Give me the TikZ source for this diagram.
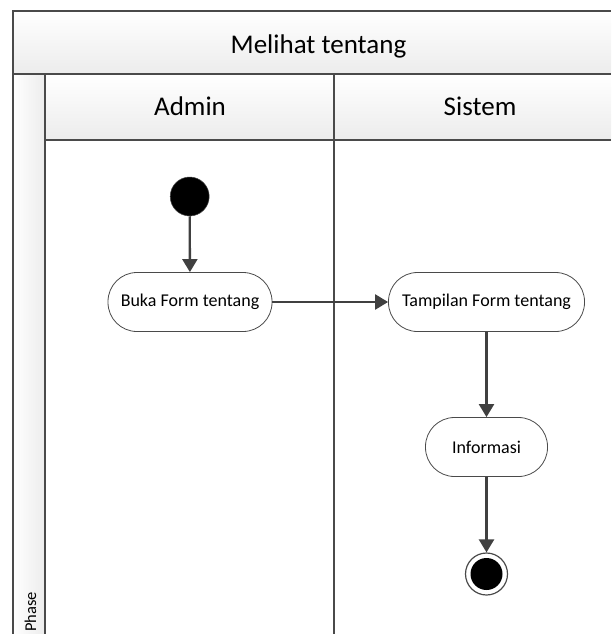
\documentclass[tikz,border=0pt]{standalone}
\usepackage{fontspec}
\setmainfont{Carlito}
\usetikzlibrary{arrows.meta}
\definecolor{edge}{HTML}{404040}
\definecolor{frame}{HTML}{4A4A4A}
\definecolor{band}{HTML}{ECECEC}
\begin{document}
\begin{tikzpicture}[x=1pt,y=-1pt,
  frameline/.style={draw=frame,line width=1.7pt},
  activity/.style={draw=frame,line width=0.8pt,fill=white,rounded corners=29pt,
    minimum height=59pt,inner sep=0pt,font=\fontsize{18}{20}\selectfont},
  flow/.style={draw=edge,line width=2.3pt,-{Triangle[length=13pt,width=15pt]}},
  headtext/.style={anchor=base,inner sep=0pt,font=\fontsize{27}{30}\selectfont}]
\useasboundingbox (0,0) rectangle (611,634);

% header bands
\shade[top color=white,bottom color=band] (13,11) rectangle (611,74);
\shade[top color=white,bottom color=band] (45,74) rectangle (611,140);
\shade[left color=white,right color=band] (13,74) rectangle (45,634);

% swimlane frame
\draw[frameline] (13,634) -- (13,11) -- (611,11);
\draw[frameline] (13,74) -- (611,74);
\draw[frameline] (45,74) -- (45,634);
\draw[frameline] (45,140) -- (611,140);
\draw[frameline] (334,74) -- (334,634);

% header labels
\node[headtext] (title) at (318.5,53) {Melihat tentang};
\node[headtext] (admin) at (190,115) {Admin};
\node[headtext] (sistem) at (480,115) {Sistem};
\node[anchor=base west,rotate=90,inner sep=0pt,font=\fontsize{16.5}{18}\selectfont] (phase) at (36,632) {Phase};

% activities
\node[circle,fill=black,draw=frame,line width=0.5pt,minimum size=39pt,inner sep=0pt] (start) at (189.7,196.5) {};
\node[activity,minimum width=164pt] (buka) at (190,302) {Buka Form tentang};
\node[activity,minimum width=196pt] (tampil) at (486.5,302) {Tampilan Form tentang};
\node[activity,minimum width=122pt] (info) at (486.5,447) {Informasi};
\node[circle,draw=frame,line width=1.2pt,fill=white,minimum size=42pt,inner sep=0pt] (end) at (486.5,574) {};
\node[circle,fill=black,minimum size=32pt,inner sep=0pt] (endcore) at (end.center) {};

% control flow
\draw[flow] (start) -- (buka);
\draw[flow] (buka) -- (tampil);
\draw[flow] (tampil) -- (info);
\draw[flow] (info) -- (end);
\end{tikzpicture}
\end{document}
